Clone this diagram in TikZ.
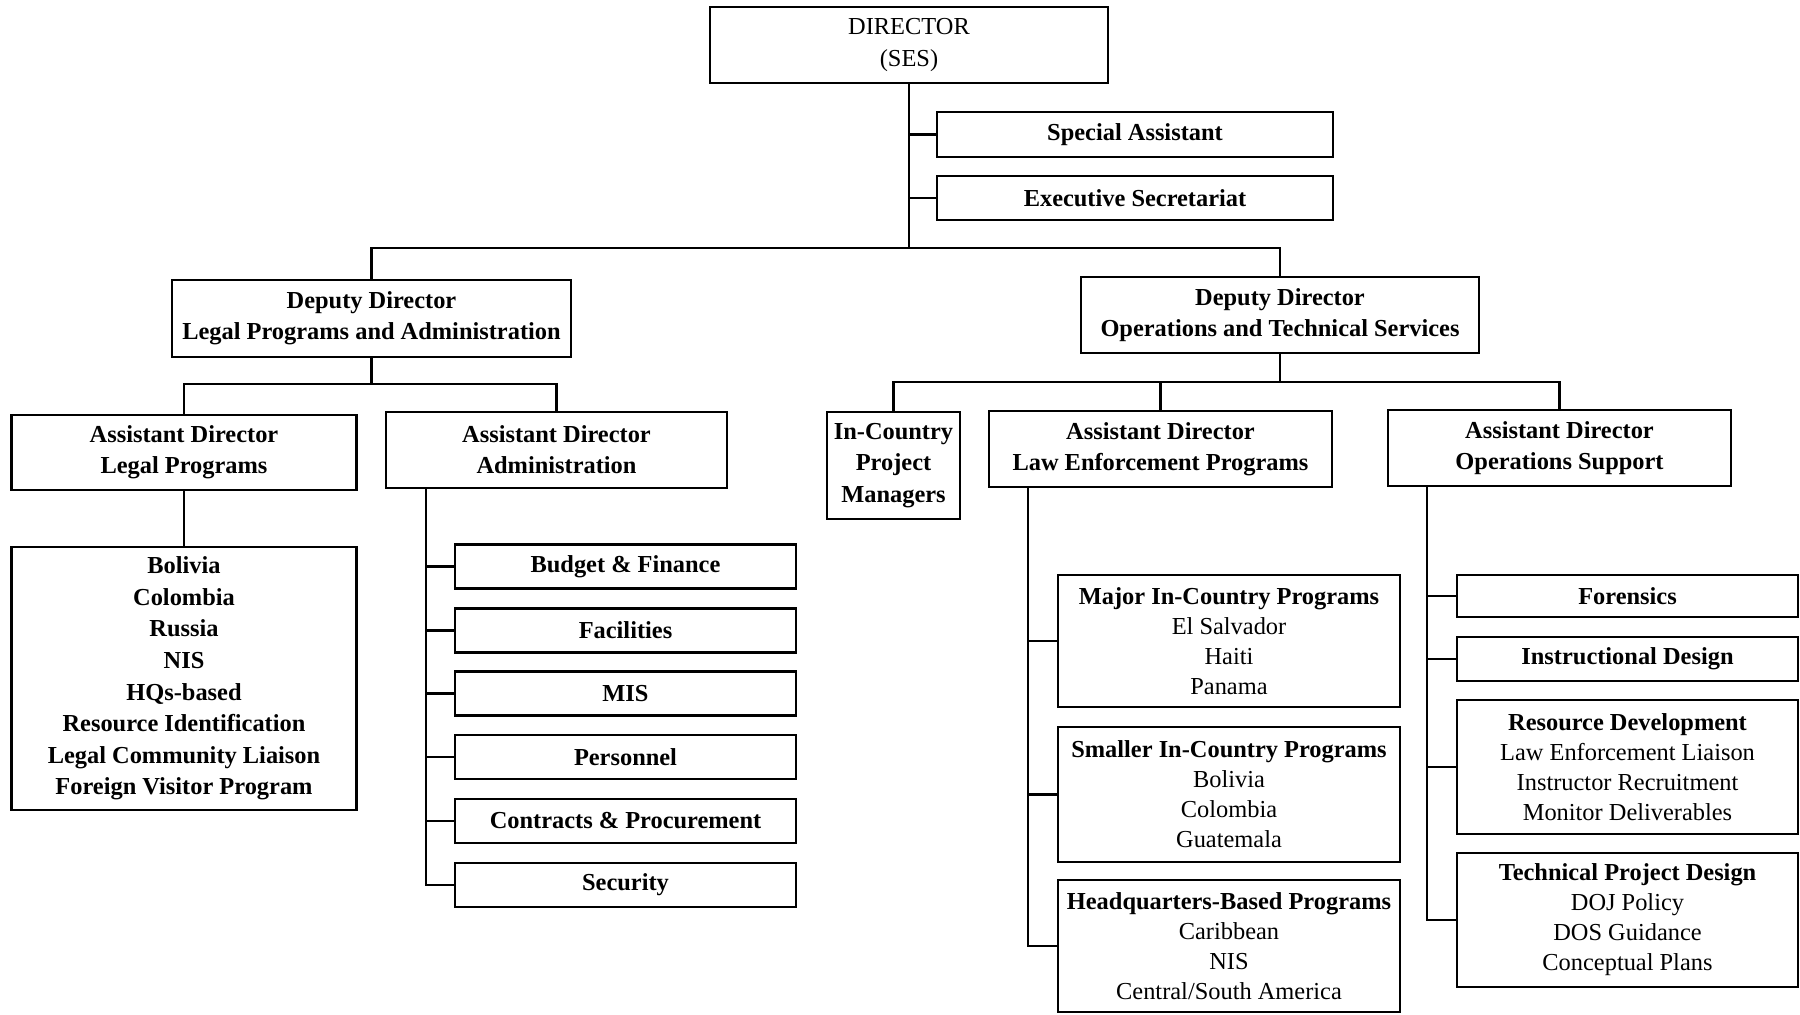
\documentclass[tikz,border=0pt]{standalone}
\usepackage{fontspec}
\setmainfont{Liberation Serif}
\begin{document}
\begin{tikzpicture}[x=0.5pt, y=-0.5pt,
		box/.style = {rectangle, draw, line width=1.3pt, inner sep=0pt, align=center, font=\bfseries\fontsize{12.2}{15.4}\selectfont},
		lst/.style = {box, font=\bfseries\fontsize{12.2}{15.8}\selectfont},
		sub/.style = {box, font=\fontsize{12.2}{15}\selectfont},
		wh/.style 2 args = {minimum width=#1*0.5pt, minimum height=#2*0.5pt},
		l/.style = {line width=1.1pt}
		]
		\useasboundingbox (0,0) rectangle (1800,1014);

		% top level
		\node[sub, wh={398}{76}, font=\fontsize{12.2}{15.6}\selectfont]	(dir)	at	(909, 45)		{DIRECTOR\\(SES)};
		\node[box, wh={396}{45}]	(spec)	at	(1135, 134.5)	{Special Assistant};
		\node[box, wh={396}{44}]	(exec)	at	(1135, 198)		{Executive Secretariat};

		\node[box, wh={399}{77}]	(dlp)	at	(371.5, 318.5)	{Deputy Director\\Legal Programs and Administration};
		\node[box, wh={398}{76}]	(dots)	at	(1280, 315)		{Deputy Director\\Operations and Technical Services};

		% assistant directors
		\node[box, wh={345}{75}]	(adl)	at	(184, 452.5)	{Assistant Director\\Legal Programs};
		\node[box, wh={341}{76}]	(ada)	at	(556.5, 450)	{Assistant Director\\Administration};
		\node[lst, wh={133}{107}]	(icpm)	at	(893.5, 465.5)	{In-Country\\Project\\Managers};
		\node[box, wh={343}{76}]	(adlep)	at	(1160.5, 449)	{Assistant Director\\Law Enforcement Programs};
		\node[box, wh={343}{76}]	(ados)	at	(1559.5, 448)	{Assistant Director\\Operations Support};

		% legal programs
		\node[lst, wh={345}{263}]	(cty)	at	(184, 678.5)	{Bolivia\\Colombia\\Russia\\NIS\\HQs-based\\Resource Identification\\Legal Community Liaison\\Foreign Visitor Program};

		% administration
		\node[box, wh={341}{44}]	(budget)	at	(625.5, 566.5)	{Budget \& Finance};
		\node[box, wh={341}{44}]	(facil)		at	(625.5, 630.5)	{Facilities};
		\node[box, wh={341}{44}]	(mis)		at	(625.5, 693.5)	{MIS};
		\node[box, wh={341}{44}]	(pers)		at	(625.5, 757)	{Personnel};
		\node[box, wh={341}{44}]	(contr)		at	(625.5, 821)	{Contracts \& Procurement};
		\node[box, wh={341}{44}]	(secur)		at	(625.5, 885)	{Security};

		% law enforcement programs
		\node[sub, wh={342}{132}]	(major)	at	(1229, 641)		{{\bfseries Major In-Country Programs}\\El Salvador\\Haiti\\Panama};
		\node[sub, wh={342}{135}]	(small)	at	(1229, 794.5)	{{\bfseries Smaller In-Country Programs}\\Bolivia\\Colombia\\Guatemala};
		\node[sub, wh={342}{132}]	(hq)	at	(1229, 946)		{{\bfseries Headquarters-Based Programs}\\Caribbean\\NIS\\Central/South America};

		% operations support
		\node[box, wh={341}{42}]	(foren)		at	(1627.5, 596)	{Forensics};
		\node[box, wh={341}{44}]	(instr)		at	(1627.5, 659)	{Instructional Design};
		\node[sub, wh={341}{134}]	(resdev)	at	(1627.5, 767)	{{\bfseries Resource Development}\\Law Enforcement Liaison\\Instructor Recruitment\\Monitor Deliverables};
		\node[sub, wh={341}{134}]	(tech)		at	(1627.5, 920)	{{\bfseries Technical Project Design}\\DOJ Policy\\DOS Guidance\\Conceptual Plans};

		% connectors
		\coordinate (bus0) at (909, 248);
		\coordinate (bus1) at (371.5, 384);
		\coordinate (bus2) at (1280, 382);

		\draw[l]	(dir.south)		--	(bus0);
		\draw[l]	(spec.west)		--	(spec.west -| dir.south);
		\draw[l]	(exec.west)		--	(exec.west -| dir.south);
		\draw[l]	(dlp.north)		|-	(bus0)	-|	(dots.north);

		\draw[l]	(dlp.south)		--	(bus1);
		\draw[l]	(adl.north)		|-	(bus1)	-|	(ada.north);
		\draw[l]	(dots.south)	--	(bus2);
		\draw[l]	(icpm.north)	|-	(bus2)	-|	(ados.north);
		\draw[l]	(adlep.north)	--	(adlep.north |- bus2);

		\draw[l]	(adl.south)		--	(cty.north);

		\draw[l]	(ada.south west)	++(41, 0)	coordinate (abus)	|-	(secur.west);
		\foreach \n in {budget, facil, mis, pers, contr}
			\draw[l]	(abus |- \n.west)	--	(\n.west);

		\draw[l]	(adlep.south west)	++(40, 0)	coordinate (lbus)	|-	(hq.west);
		\foreach \n in {major, small}
			\draw[l]	(lbus |- \n.west)	--	(\n.west);

		\draw[l]	(ados.south west)	++(40, 0)	coordinate (obus)	|-	(tech.west);
		\foreach \n in {foren, instr, resdev}
			\draw[l]	(obus |- \n.west)	--	(\n.west);
\end{tikzpicture}
\end{document}
